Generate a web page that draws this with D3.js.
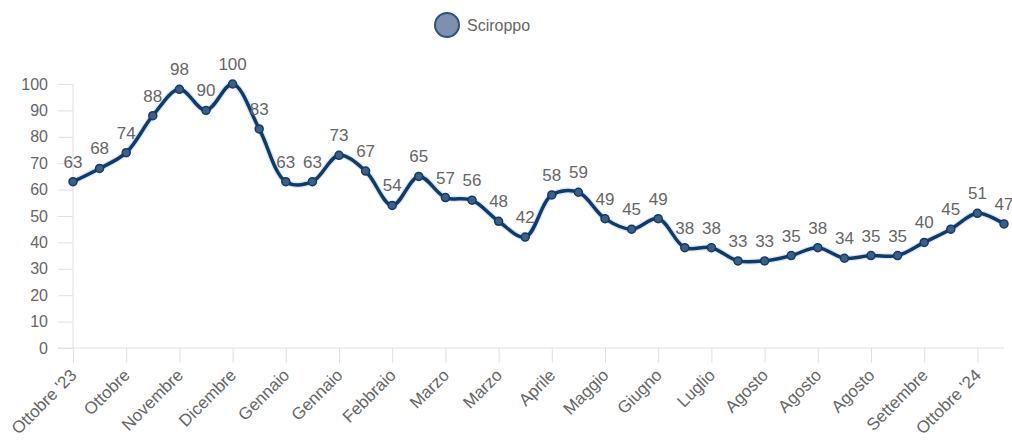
<!DOCTYPE html>
<html>
<head>
<meta charset="utf-8">
<script src="https://cdn.jsdelivr.net/npm/d3@7"></script>
<style>
  body { margin: 0; background: #fff; font-family: "Liberation Sans", Arial, sans-serif; }
  svg text { font-family: "Liberation Sans", Arial, sans-serif; }
</style>
</head>
<body>
<svg id="chart" width="1012" height="441"></svg>
<script>
// valori
const seriesName = "Sciroppo"
const values = [63, 68, 74, 88, 98, 90, 100, 83, 63, 63, 73, 67, 54, 65, 57, 56, 48, 42,
                58, 59, 49, 45, 49, 38, 38, 33, 33, 35, 38, 34, 35, 35, 40, 45, 51, 47]
// one label every other point
const tickLabels = ["Ottobre '23", "Ottobre", "Novembre", "Dicembre", "Gennaio", "Gennaio",
                    "Febbraio", "Marzo", "Marzo", "Aprile", "Maggio", "Giugno", "Luglio",
                    "Agosto", "Agosto", "Agosto", "Settembre", "Ottobre '24"]
const yTicks = [0, 10, 20, 30, 40, 50, 60, 70, 80, 90, 100]

const svg = d3.select('#chart')
const navy = '#0e3b6e'
const grey = '#666'

const x = d3.scaleLinear().domain([0, values.length - 1]).range([73, 1004])
const y = d3.scaleLinear().domain([0, 100]).range([348, 84])

// y axis
const yAxis = svg.append('g')
  .attr('transform', 'translate(73,0)')
  .call(d3.axisLeft(y).tickValues(yTicks).tickSize(15).tickPadding(10))
yAxis.select('.domain').attr('stroke', '#e0e0e0').attr('d', `M0,${y(100)}V${y(0)}`)
yAxis.selectAll('.tick line').attr('stroke', '#e0e0e0')
yAxis.selectAll('.tick text').attr('fill', grey).style('font-size', '16px')

// x axis
const xAxis = svg.append('g')
  .attr('transform', `translate(0,${y(0)})`)
  .call(d3.axisBottom(x).tickValues(d3.range(0, values.length, 2))
    .tickFormat((d, i) => tickLabels[i]).tickSize(15).tickSizeOuter(0))
xAxis.select('.domain').attr('stroke', '#e0e0e0').attr('d', `M58,0H${x(values.length - 1)}`)
xAxis.selectAll('.tick line').attr('stroke', '#e0e0e0')
xAxis.selectAll('.tick text')
  .attr('fill', grey)
  .style('font-size', '17px')
  .style('text-anchor', 'end')
  .attr('transform', 'translate(0,24) rotate(-45)')
  .attr('dy', '0.35em')
  .attr('y', 0)

// line
const line = d3.line()
  .x((d, i) => x(i))
  .y(d => y(d))
  .curve(d3.curveCatmullRom.alpha(0.5))

svg.append('path')
  .datum(values)
  .attr('d', line)
  .attr('fill', 'none')
  .attr('stroke', '#dde6f0')
  .attr('stroke-width', 6)

svg.append('path')
  .datum(values)
  .attr('d', line)
  .attr('fill', 'none')
  .attr('stroke', navy)
  .attr('stroke-width', 3.5)

svg.append('g').selectAll('circle')
  .data(values)
  .join('circle')
  .attr('cx', (d, i) => x(i))
  .attr('cy', d => y(d))
  .attr('r', 4)
  .attr('fill', '#3d5f86')
  .attr('stroke', navy)
  .attr('stroke-width', 1.5)

svg.append('g').selectAll('text')
  .data(values)
  .join('text')
  .attr('x', (d, i) => x(i))
  .attr('y', d => y(d) - 14)
  .attr('text-anchor', 'middle')
  .attr('fill', grey)
  .style('font-size', '17px')
  .text(d => d)

// legend
const legend = svg.append('g').attr('transform', 'translate(447,25)')
legend.append('circle')
  .attr('r', 12)
  .attr('fill', '#7d91ad')
  .attr('stroke', '#2d5180')
  .attr('stroke-width', 2)
legend.append('text')
  .attr('x', 20)
  .attr('y', 6)
  .attr('fill', grey)
  .style('font-size', '16px')
  .text(seriesName)
</script>
</body>
</html>
